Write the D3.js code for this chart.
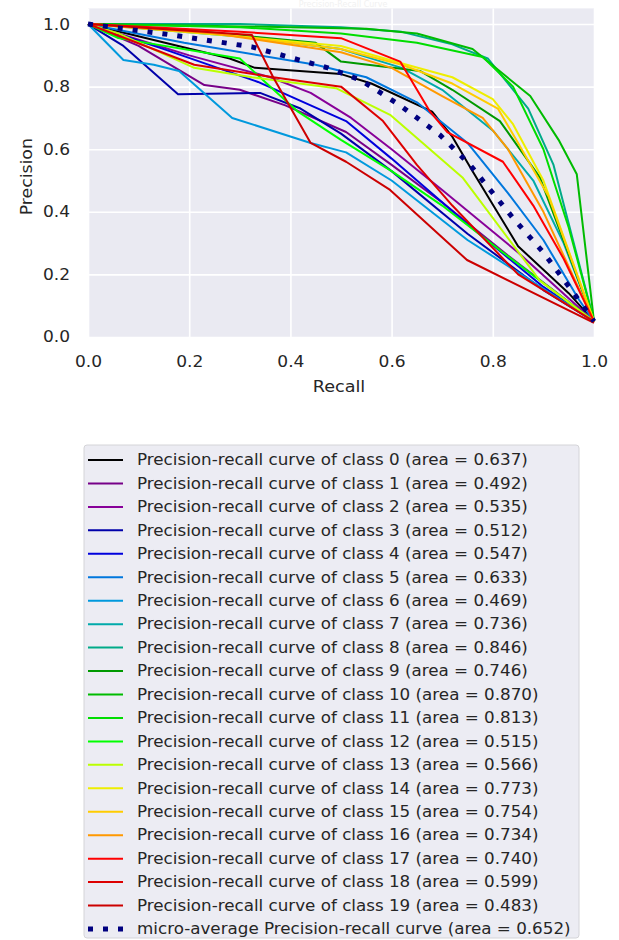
<!DOCTYPE html>
<html>
<head>
<meta charset="utf-8">
<script src="https://cdn.jsdelivr.net/npm/d3@7"></script>
<style>
  body { margin: 0; background: #fff; }
  svg { display: block; font-family: "DejaVu Sans", sans-serif; }
</style>
</head>
<body>
<svg id="canvas"></svg>
<script>
// recall / precision points, one array per class
const pr0 = [[0, 1], [0.28, 0.89], [0.33, 0.86], [0.5, 0.84], [0.56, 0.81], [0.68, 0.72], [0.72, 0.64], [0.76, 0.53], [0.85, 0.29], [0.95, 0.14], [1, 0.05]];
const pr1 = [[0, 1], [0.1, 0.93], [0.23, 0.805], [0.3, 0.79], [0.39, 0.74], [0.51, 0.655], [0.6, 0.55], [0.7, 0.43], [0.83, 0.26], [1, 0.05]];
const pr2 = [[0, 1], [0.2, 0.9], [0.36, 0.83], [0.44, 0.78], [0.52, 0.7], [0.6, 0.6], [0.7, 0.47], [0.85, 0.27], [1, 0.05]];
const pr3 = [[0, 1], [0.07, 0.93], [0.178, 0.776], [0.34, 0.78], [0.42, 0.73], [0.5, 0.65], [0.6, 0.53], [0.75, 0.33], [0.9, 0.15], [1, 0.05]];
const pr4 = [[0, 1], [0.15, 0.92], [0.336, 0.815], [0.44, 0.74], [0.51, 0.69], [0.6, 0.57], [0.75, 0.36], [0.9, 0.16], [1, 0.05]];
const pr5 = [[0, 1], [0.19, 0.94], [0.45, 0.87], [0.55, 0.83], [0.65, 0.75], [0.75, 0.62], [0.83, 0.46], [0.9, 0.31], [0.97, 0.12], [1, 0.05]];
const pr6 = [[0, 1], [0.07, 0.885], [0.13, 0.87], [0.18, 0.85], [0.285, 0.7], [0.44, 0.62], [0.51, 0.59], [0.6, 0.5], [0.75, 0.31], [1, 0.05]];
const pr7 = [[0, 1], [0.3, 0.96], [0.5, 0.92], [0.62, 0.86], [0.7, 0.79], [0.8, 0.66], [0.88, 0.5], [0.94, 0.3], [1, 0.05]];
const pr8 = [[0, 1], [0.3, 1.0], [0.5, 0.99], [0.62, 0.975], [0.72, 0.935], [0.79, 0.89], [0.87, 0.73], [0.92, 0.55], [1, 0.05]];
const pr9 = [[0, 1], [0.2, 0.98], [0.45, 0.94], [0.5, 0.88], [0.656, 0.85], [0.72, 0.79], [0.814, 0.69], [0.893, 0.51], [1, 0.05]];
const pr10 = [[0, 1], [0.2, 0.995], [0.4, 0.99], [0.55, 0.985], [0.65, 0.97], [0.76, 0.92], [0.874, 0.77], [0.93, 0.63], [0.966, 0.52], [1, 0.05]];
const pr11 = [[0, 1], [0.3, 0.99], [0.5, 0.97], [0.65, 0.94], [0.78, 0.895], [0.84, 0.8], [0.9, 0.6], [0.95, 0.35], [1, 0.05]];
const pr12 = [[0, 1], [0.06, 0.955], [0.3, 0.89], [0.35, 0.815], [0.415, 0.72], [0.5, 0.63], [0.6, 0.53], [0.7, 0.42], [0.82, 0.27], [1, 0.05]];
const pr13 = [[0, 1], [0.06, 0.97], [0.21, 0.86], [0.324, 0.83], [0.49, 0.795], [0.597, 0.71], [0.74, 0.51], [0.893, 0.18], [1, 0.05]];
const pr14 = [[0, 1], [0.3, 0.96], [0.5, 0.93], [0.63, 0.87], [0.72, 0.83], [0.8, 0.76], [0.84, 0.68], [0.9, 0.5], [1, 0.05]];
const pr15 = [[0, 1], [0.25, 0.97], [0.5, 0.92], [0.62, 0.87], [0.72, 0.81], [0.81, 0.73], [0.85, 0.62], [0.91, 0.45], [1, 0.05]];
const pr16 = [[0, 1], [0.25, 0.97], [0.5, 0.91], [0.6, 0.86], [0.7, 0.77], [0.78, 0.7], [0.83, 0.6], [0.9, 0.4], [1, 0.05]];
const pr17 = [[0, 1], [0.3, 0.975], [0.5, 0.955], [0.617, 0.88], [0.676, 0.72], [0.71, 0.655], [0.82, 0.56], [0.88, 0.42], [0.94, 0.25], [1, 0.05]];
const pr18 = [[0, 1], [0.21, 0.87], [0.366, 0.83], [0.5, 0.8], [0.583, 0.69], [0.65, 0.55], [0.72, 0.42], [0.85, 0.2], [1, 0.05]];
const pr19 = [[0, 1], [0.324, 0.965], [0.366, 0.83], [0.44, 0.62], [0.51, 0.56], [0.597, 0.47], [0.749, 0.246], [1, 0.045]];
const microAvg = [[0, 1], [0.166, 0.965], [0.324, 0.927], [0.474, 0.86], [0.54, 0.82], [0.617, 0.74], [0.696, 0.645], [0.755, 0.55], [0.78, 0.5], [0.84, 0.38], [0.9, 0.27], [0.96, 0.14], [1, 0.05]];

const curves = [pr0, pr1, pr2, pr3, pr4, pr5, pr6, pr7, pr8, pr9, pr10, pr11, pr12, pr13, pr14, pr15, pr16, pr17, pr18, pr19];
const areas = ['0.637', '0.492', '0.535', '0.512', '0.547', '0.633', '0.469', '0.736', '0.846', '0.746',
               '0.870', '0.813', '0.515', '0.566', '0.773', '0.754', '0.734', '0.740', '0.599', '0.483'];
const microArea = '0.652';
const xTicks = [0, 0.2, 0.4, 0.6, 0.8, 1.0];
const yTicks = [0, 0.2, 0.4, 0.6, 0.8, 1.0];

// nipy_spectral sampled at i/20
const palette = ['#000000', '#770088', '#880099', '#0000aa', '#0000dd', '#0077dd', '#0099dd', '#00aaaa', '#00aa88', '#009900',
                 '#00bb00', '#00dd00', '#00ff00', '#bbff00', '#eeee00', '#ffcc00', '#ff9900', '#ff0000', '#dd0000', '#cc0000'];

const w = 619;
const h = 940;
const padLeft = 88, padRight = 594, padTop = 8.4, padBottom = 337;

const svg = d3.select('#canvas').attr('width', w).attr('height', h);

// the screenshot is a bit wider than tall, so widen the glyphs a little
const stretch = (sel, k) => sel.each(function () {
	const len = this.getComputedTextLength();
	d3.select(this).attr('textLength', len * k).attr('lengthAdjust', 'spacingAndGlyphs');
});

const xScale = d3.scaleLinear().domain([0, 1]).range([padLeft, padRight]);
const yScale = d3.scaleLinear().domain([0, 1.05]).range([padBottom, padTop]);

// faint title (almost invisible in the original)
svg.append('text')
	.attr('x', (padLeft + padRight) / 2 + 2)
	.attr('y', 7)
	.attr('text-anchor', 'middle')
	.attr('font-size', 8)
	.attr('fill', '#f1f1f1')
	.text('Precision-Recall Curve');

svg.append('rect')
	.attr('x', padLeft).attr('y', padTop)
	.attr('width', padRight - padLeft).attr('height', padBottom - padTop)
	.attr('fill', '#eaeaf2');

// grid
svg.append('g')
	.attr('transform', 'translate(0,' + padBottom + ')')
	.call(d3.axisBottom(xScale).tickValues(xTicks).tickSize(-(padBottom - padTop)).tickFormat(''))
	.call(g => g.select('.domain').remove())
	.call(g => g.selectAll('line').attr('stroke', '#fff').attr('stroke-width', 1.6));
svg.append('g')
	.attr('transform', 'translate(' + padLeft + ',0)')
	.call(d3.axisLeft(yScale).tickValues(yTicks).tickSize(-(padRight - padLeft)).tickFormat(''))
	.call(g => g.select('.domain').remove())
	.call(g => g.selectAll('line').attr('stroke', '#fff').attr('stroke-width', 1.6));

// tick labels
const xAxis = svg.append('g')
	.attr('transform', 'translate(0,' + padBottom + ')')
	.call(d3.axisBottom(xScale).tickValues(xTicks).tickSize(0).tickPadding(19).tickFormat(d3.format('.1f')));
const yAxis = svg.append('g')
	.attr('transform', 'translate(' + padLeft + ',0)')
	.call(d3.axisLeft(yScale).tickValues(yTicks).tickSize(0).tickPadding(18).tickFormat(d3.format('.1f')));
[xAxis, yAxis].forEach(a => {
	a.select('.domain').remove();
	a.selectAll('text').attr('font-size', 15.5).attr('fill', '#262626').attr('font-family', '"DejaVu Sans", sans-serif');
	stretch(a.selectAll('text'), 1.1);
});

svg.append('text')
	.attr('x', (padLeft + padRight) / 2 - 2)
	.attr('y', 392)
	.attr('text-anchor', 'middle')
	.attr('font-size', 16)
	.attr('fill', '#262626')
	.text('Recall')
	.call(stretch, 1.1);
svg.append('text')
	.attr('transform', 'translate(32,' + ((padTop + padBottom) / 2 + 4) + ') rotate(-90)')
	.attr('text-anchor', 'middle')
	.attr('font-size', 16)
	.attr('fill', '#262626')
	.text('Precision')
	.call(stretch, 1.08);

const line = d3.line().x(d => xScale(d[0])).y(d => yScale(d[1]));

svg.append('g')
	.selectAll('path')
	.data(curves)
	.enter()
	.append('path')
	.attr('d', line)
	.attr('fill', 'none')
	.attr('stroke', (d, i) => palette[i])
	.attr('stroke-width', 2)
	.attr('stroke-linejoin', 'round');

svg.append('path')
	.attr('d', line(microAvg))
	.attr('fill', 'none')
	.attr('stroke', 'navy')
	.attr('stroke-width', 5)
	.attr('stroke-dasharray', '5,10');

// legend
const legendX = 84, legendY = 445;
const rowY = i => 460 + i * 23.45;
const legend = svg.append('g');
legend.append('rect')
	.attr('x', legendX).attr('y', legendY)
	.attr('width', 495).attr('height', 493)
	.attr('rx', 3)
	.attr('fill', '#ececf3')
	.attr('stroke', '#d4d4d8');

const rows = legend.selectAll('g.row')
	.data(areas)
	.enter()
	.append('g')
	.attr('class', 'row');
rows.append('line')
	.attr('x1', 88).attr('x2', 123)
	.attr('y1', (d, i) => rowY(i)).attr('y2', (d, i) => rowY(i))
	.attr('stroke', (d, i) => palette[i])
	.attr('stroke-width', 2);
rows.append('text')
	.attr('x', 137)
	.attr('y', (d, i) => rowY(i))
	.attr('dy', '0.35em')
	.attr('font-size', 15)
	.attr('fill', '#262626')
	.text((d, i) => 'Precision-recall curve of class ' + i + ' (area = ' + d + ')');
stretch(rows.selectAll('text'), 1.115);

legend.append('line')
	.attr('x1', 88).attr('x2', 123)
	.attr('y1', rowY(20)).attr('y2', rowY(20))
	.attr('stroke', 'navy')
	.attr('stroke-width', 5)
	.attr('stroke-dasharray', '5,10');
legend.append('text')
	.attr('x', 137)
	.attr('y', rowY(20))
	.attr('dy', '0.35em')
	.attr('font-size', 15)
	.attr('fill', '#262626')
	.text('micro-average Precision-recall curve (area = ' + microArea + ')')
	.call(stretch, 1.115);
</script>
</body>
</html>
